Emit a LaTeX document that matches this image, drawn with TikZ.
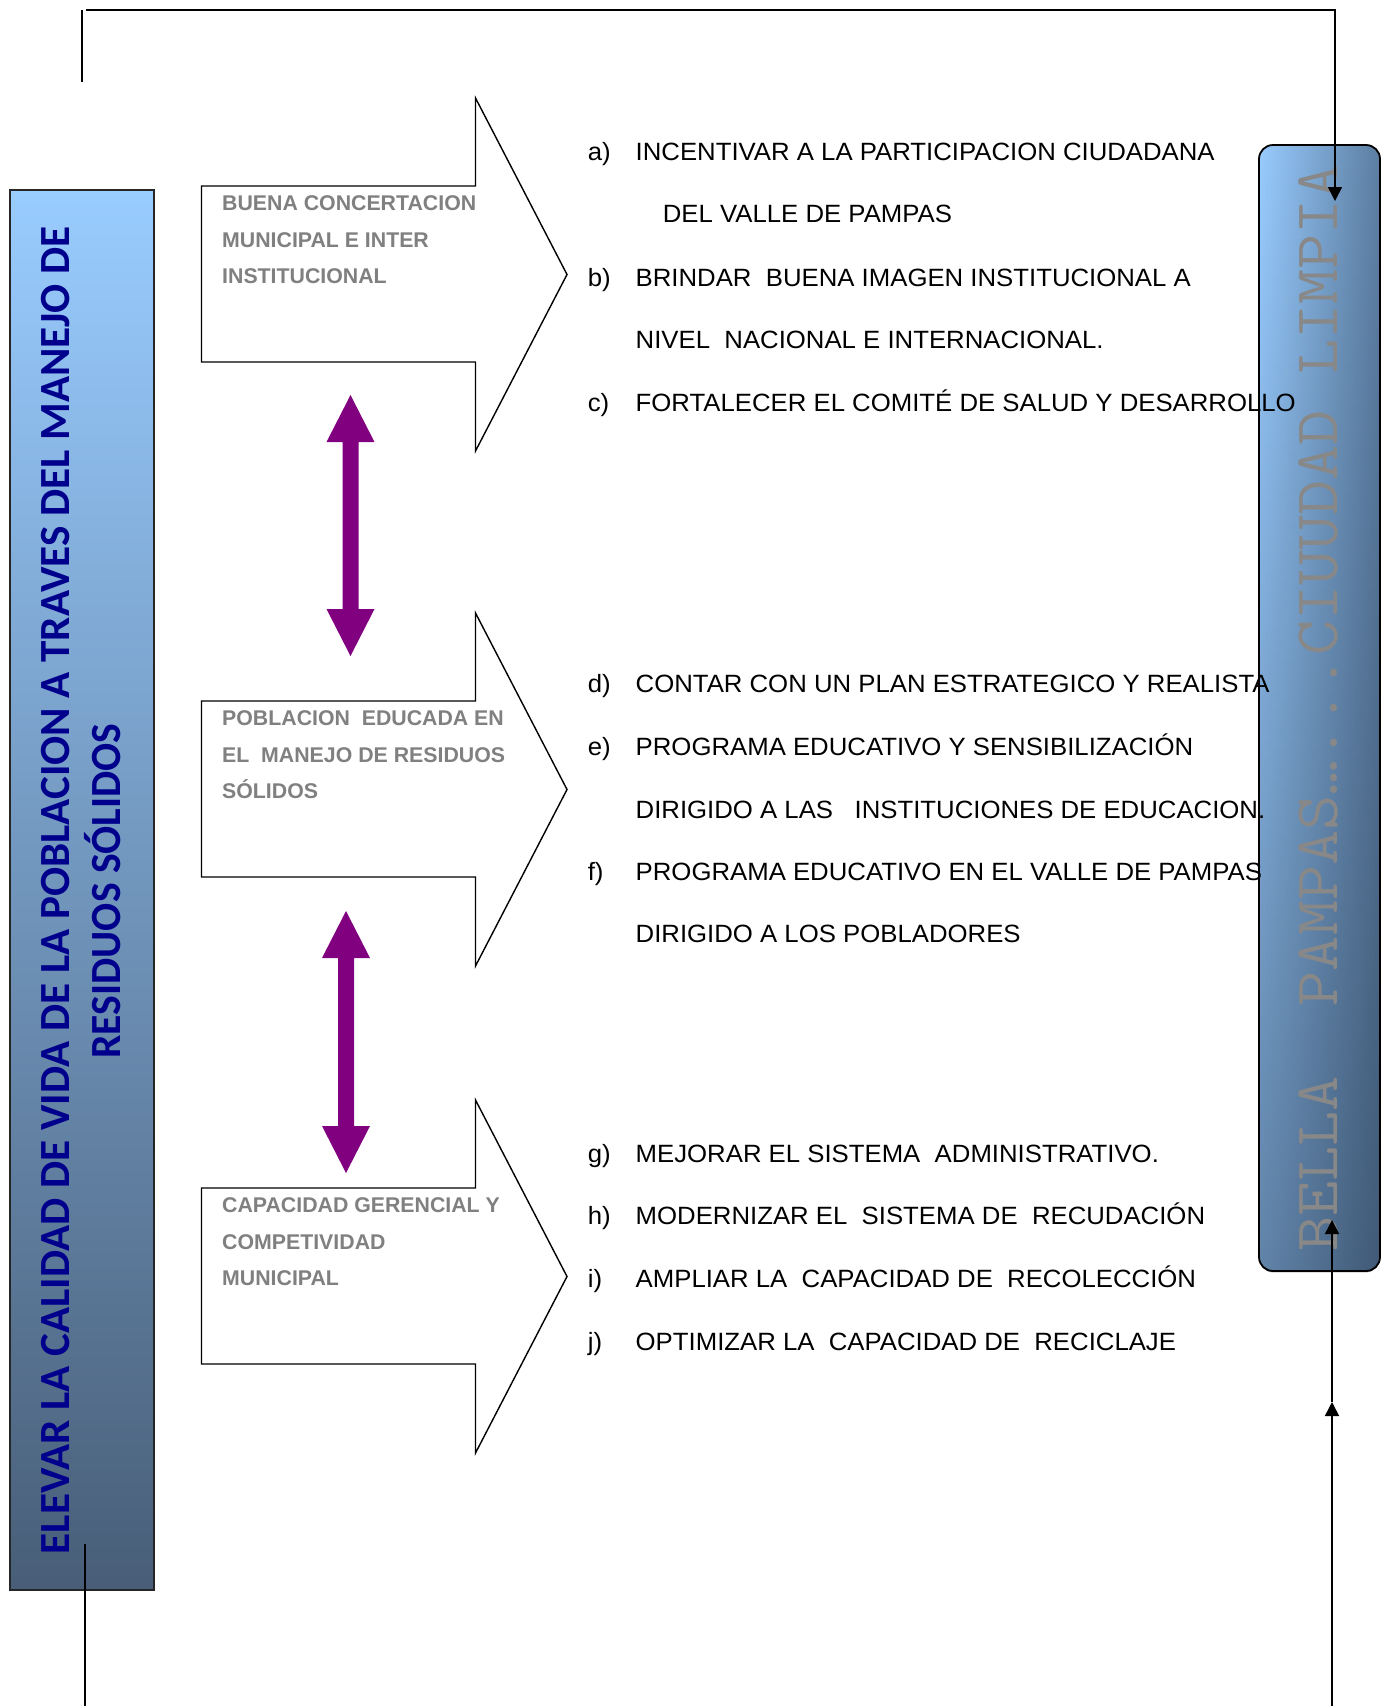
\documentclass[tikz,border=0pt]{standalone}
\usepackage{fontspec}
\setmainfont{Liberation Sans}
\newfontfamily\listfam[FakeStretch=1.03]{Liberation Sans}
\newfontfamily\calfam{Carlito}
\usetikzlibrary{arrows.meta,fadings}
\definecolor{lightblue}{RGB}{153,204,255}
\definecolor{midblue}{RGB}{124,162,205}
\definecolor{darkslate}{RGB}{72,94,120}
\definecolor{rightdark}{RGB}{92,126,162}
\definecolor{shadowc}{RGB}{30,45,65}
\definecolor{navytxt}{RGB}{0,0,140}
\definecolor{boxgray}{RGB}{128,128,128}
\definecolor{monogray}{RGB}{136,136,136}
\definecolor{purplearr}{RGB}{128,0,128}
\tikzfading[name=fadetop, top color=transparent!100, bottom color=transparent!0]
\newcommand\blockarr[1]{%
  \draw[blockline] (201.5,186+#1) -- (475.5,186+#1) -- (475.5,98+#1) -- (567,274.5+#1)
    -- (475.5,451+#1) -- (475.5,362+#1) -- (201.5,362+#1) -- cycle;}
\newcommand\purpdbl[3]{% x, ytop, ybot
  \fill[purplearr] (#1,#2) -- (#1+24,#2+47) -- (#1+8,#2+47) -- (#1+8,#3-47) -- (#1+24,#3-47)
    -- (#1,#3) -- (#1-24,#3-47) -- (#1-8,#3-47) -- (#1-8,#2+47) -- (#1-24,#2+47) -- cycle;}
\begin{document}
\begin{tikzpicture}[x=1pt,y=-1pt,
  listtxt/.style={font=\listfam\fontsize{25}{25}\selectfont, anchor=base west, inner sep=0pt, text=black},
  boxtxt/.style={font=\bfseries\fontsize{21.3}{21.3}\selectfont, anchor=base west, inner sep=0pt, text=boxgray},
  blockline/.style={draw=black, line width=1.4pt, fill=white, line join=miter},
  conn/.style={draw=black, line width=1.6pt},
  tipend/.style={-{Triangle[width=14pt,length=14pt]}}
]
\useasboundingbox (0,0) rectangle (1382,1706);

% left box
\shade[top color=lightblue, middle color=midblue, bottom color=darkslate] (10,190) rectangle (154,1590);
\draw[line width=1.6pt, draw=black!85] (10,190) rectangle (154,1590);
\node[rotate=90, text=navytxt, inner sep=0pt] (goal1) at (56,890)
  {\resizebox{1328pt}{\height}{\calfam\bfseries\fontsize{43}{43}\selectfont ELEVAR LA CALIDAD DE VIDA DE LA POBLACION A TRAVES DEL MANEJO DE}};
\node[rotate=90, text=navytxt, inner sep=0pt] (goal2) at (103,891)
  {\resizebox{335pt}{\height}{\calfam\bfseries\fontsize{43}{43}\selectfont RESIDUOS SÓLIDOS}};

% right box
\shade[rounded corners=14pt, left color=lightblue, right color=rightdark] (1259,145) rectangle (1380,1271);
\fill[rounded corners=14pt, fill=shadowc, path fading=fadetop, fill opacity=0.45] (1259,145) rectangle (1380,1271);
\draw[rounded corners=14pt, line width=1.8pt] (1259,145) rectangle (1380,1271);
\node[rotate=90, text=monogray, inner sep=0pt] (vision) at (1318,708)
  {\resizebox{1087pt}{\height}{\ttfamily\fontsize{62}{62}\selectfont BELLA~ PAMPAS…...CIUUDAD LIMPIA}};

% block arrows
\blockarr{0}
\blockarr{515}
\blockarr{1002}

\node[boxtxt] (b1a) at (222,210.7) {BUENA CONCERTACION};
\node[boxtxt] (b1b) at (222,247) {MUNICIPAL E INTER};
\node[boxtxt] (b1c) at (222,283.3) {INSTITUCIONAL};
\node[boxtxt] (b2a) at (222,725.7) {POBLACION~ EDUCADA EN};
\node[boxtxt] (b2b) at (222,762) {EL~ MANEJO DE RESIDUOS};
\node[boxtxt] (b2c) at (222,798.3) {SÓLIDOS};
\node[boxtxt] (b3a) at (222,1212.7) {CAPACIDAD GERENCIAL Y};
\node[boxtxt] (b3b) at (222,1249) {COMPETIVIDAD};
\node[boxtxt] (b3c) at (222,1285.3) {MUNICIPAL};

% purple double arrows
\purpdbl{350.5}{395}{656}
\purpdbl{346}{911}{1173}

% list
\node[listtxt] (la) at (587.6,160) {a)};
\node[listtxt] (ta) at (635.5,160) {INCENTIVAR A LA PARTICIPACION CIUDADANA};
\node[listtxt] (ta2) at (662.7,222) {DEL VALLE DE PAMPAS};
\node[listtxt] (lb) at (587.6,286.2) {b)};
\node[listtxt] (tb) at (635.5,286.2) {BRINDAR~ BUENA IMAGEN INSTITUCIONAL A};
\node[listtxt] (tb2) at (635.5,348.2) {NIVEL~ NACIONAL E INTERNACIONAL.};
\node[listtxt] (lc) at (587.6,411.3) {c)};
\node[listtxt] (tc) at (635.5,411.3) {FORTALECER EL COMITÉ DE SALUD Y DESARROLLO};
\node[listtxt] (ld) at (587.6,692.1) {d)};
\node[listtxt] (td) at (635.5,692.1) {CONTAR CON UN PLAN ESTRATEGICO Y REALISTA};
\node[listtxt] (le) at (587.6,755.2) {e)};
\node[listtxt] (te) at (635.5,755.2) {PROGRAMA EDUCATIVO Y SENSIBILIZACIÓN};
\node[listtxt] (te2) at (635.5,818.3) {DIRIGIDO A LAS~~ INSTITUCIONES DE EDUCACION.};
\node[listtxt] (lf) at (587.6,880.3) {f)};
\node[listtxt] (tf) at (635.5,880.3) {PROGRAMA EDUCATIVO EN EL VALLE DE PAMPAS};
\node[listtxt] (tf2) at (635.5,942.4) {DIRIGIDO A LOS POBLADORES};
\node[listtxt] (lg) at (587.6,1162.2) {g)};
\node[listtxt] (tg) at (635.5,1162.2) {MEJORAR EL SISTEMA~ ADMINISTRATIVO.};
\node[listtxt] (lh) at (587.6,1224.2) {h)};
\node[listtxt] (th) at (635.5,1224.2) {MODERNIZAR EL~ SISTEMA DE~ RECUDACIÓN};
\node[listtxt] (li) at (587.6,1287.3) {i)};
\node[listtxt] (ti) at (635.5,1287.3) {AMPLIAR LA~ CAPACIDAD DE~ RECOLECCIÓN};
\node[listtxt] (lj) at (587.6,1350.4) {j)};
\node[listtxt] (tj) at (635.5,1350.4) {OPTIMIZAR LA~ CAPACIDAD DE~ RECICLAJE};

% connectors
\coordinate (topstart) at (82,82);
\coordinate (topleft) at (82,10);
\coordinate (topright) at (1335,10);
\coordinate (toptip) at (1335,201);
\draw[conn] (topstart) -- (topleft);
\draw[conn, tipend] (topleft) ++(4,0) -- (topright) -- (toptip);

\coordinate (botstart) at (1332,1706);
\coordinate (botmid) at (1332,1402);
\coordinate (bottip) at (1332,1220);
\draw[conn, tipend] (botstart) -- (botmid);
\draw[conn, tipend] (botmid) -- (bottip);

\coordinate (leftstart) at (85,1544);
\coordinate (leftend) at (85,1706);
\draw[conn] (leftstart) -- (leftend);
\end{tikzpicture}
\end{document}
